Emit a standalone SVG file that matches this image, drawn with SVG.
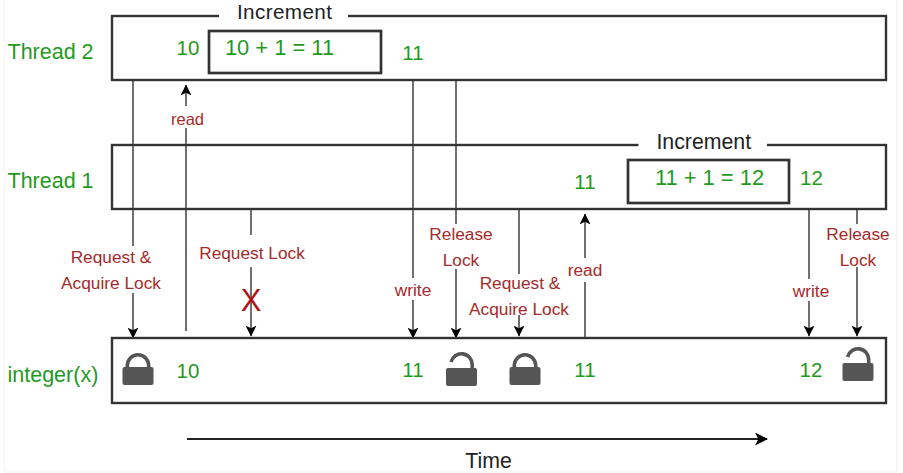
<svg xmlns="http://www.w3.org/2000/svg" width="903" height="473" viewBox="0 0 903 473">
<style>
text{font-family:"Liberation Sans",Arial,sans-serif}
.box{fill:none;stroke:#333;stroke-width:2.4}
.inner{fill:none;stroke:#333;stroke-width:2.7}
.gap{fill:#fff;stroke:none}
.line{fill:none;stroke:#222;stroke-width:1.3}
.g{fill:#1f9a1f;font-size:21.500px}
.n{fill:#1f9a1f;font-size:20.500px;text-anchor:middle}
.m{fill:#1f9a1f;font-size:21.900px;text-anchor:middle}
.r{fill:#a52a2a;font-size:17.300px;text-anchor:middle}
.b{fill:#222;font-size:21.300px;text-anchor:middle}
.lock{fill:#555}
.shackle{fill:none;stroke:#555;stroke-width:3.600}
.frame{fill:none;stroke:#f6f6f6;stroke-width:1.500}
</style>
<defs>
<marker id="ah" viewBox="0 0 10 10" refX="9.500" refY="5" markerWidth="11" markerHeight="11" markerUnits="userSpaceOnUse" orient="auto"><path d="M0 0L10 5L0 10L2.500 5Z" fill="#000"/></marker>
<marker id="ahb" viewBox="0 0 12 12" refX="11" refY="6" markerWidth="13" markerHeight="13" markerUnits="userSpaceOnUse" orient="auto"><path d="M0 0L12 6L0 12L3 6Z" fill="#000"/></marker>
<g id="lk"><rect class="lock" x="0" y="15" width="31" height="18" rx="2"/><path class="shackle" d="M4.800 16V13.500A10.700 10.700 0 0 1 26.200 13.500V16"/></g>
<g id="ulk"><rect class="lock" x="0" y="15" width="31" height="18" rx="2"/><path class="shackle" d="M5.100 9A10.700 10.700 0 0 1 26.200 11.500V16"/></g>
</defs>
<rect width="903" height="473" fill="#fff"/>
<path class="frame" d="M4.500 0V472H897V0"/>
<g id="connectors">
<path class="line" marker-end="url(#ah)" d="M133 80V338"/>
<path class="line" marker-end="url(#ah)" d="M186 331V85"/>
<path class="line" marker-end="url(#ah)" d="M251 209V336"/>
<path class="line" marker-end="url(#ah)" d="M413 80V338"/>
<path class="line" marker-end="url(#ah)" d="M456 80V338"/>
<path class="line" marker-end="url(#ah)" d="M519 209V336"/>
<path class="line" marker-end="url(#ah)" d="M585 338V214"/>
<path class="line" marker-end="url(#ah)" d="M809 209V336"/>
<path class="line" marker-end="url(#ah)" d="M857 209V336"/>
<path fill="none" stroke="#222" stroke-width="2" marker-end="url(#ahb)" d="M187 439H767"/>
</g>
<g id="thread2">
<rect class="box" x="112" y="16" width="774" height="64"/>
<rect class="gap" x="219" y="8" width="129" height="14"/>
<text class="b" x="284.500" y="18.800" style="font-size:20.700px" textLength="95">Increment</text>
<text class="g" x="7.500" y="59">Thread 2</text>
<text class="n" x="188" y="55">10</text>
<rect class="inner" x="209" y="31" width="172" height="42"/>
<text class="m" x="279.500" y="55">10 + 1 = 11</text>
<text class="n" x="413" y="60">11</text>
</g>
<g id="thread1">
<rect class="box" x="112" y="145" width="774" height="64"/>
<rect class="gap" x="638.500" y="137" width="128.500" height="14"/>
<text class="b" x="703.800" y="148.500">Increment</text>
<text class="g" x="7.500" y="188">Thread 1</text>
<text class="n" x="585" y="189">11</text>
<rect class="inner" x="628" y="160" width="161" height="43"/>
<text class="m" x="709.500" y="185">11 + 1 = 12</text>
<text class="n" x="811.500" y="185">12</text>
</g>
<g id="integer-x">
<rect class="box" x="112" y="338" width="774" height="65"/>
<text class="g" x="7.500" y="382">integer(x)</text>
<use href="#lk" x="122.500" y="352"/>
<text class="n" x="188" y="378">10</text>
<text class="n" x="413" y="377">11</text>
<use href="#ulk" x="446" y="353"/>
<use href="#lk" x="509.500" y="352"/>
<text class="n" x="585" y="377">11</text>
<text class="n" x="811" y="377">12</text>
<use href="#ulk" x="842.500" y="348"/>
</g>
<g id="labels">
<rect class="gap" x="171" y="106" width="33" height="22"/>
<text class="r" x="187.500" y="125" style="font-size:16.500px">read</text>
<rect class="gap" x="60" y="246" width="102" height="47"/>
<text class="r" x="111" y="263">Request &amp;</text>
<text class="r" x="111" y="289">Acquire Lock</text>
<rect class="gap" x="199" y="235" width="107" height="32"/>
<text class="r" x="252" y="259">Request Lock</text>
<text x="251" y="311" style="font-size:31px;fill:#b01515;text-anchor:middle">X</text>
<rect class="gap" x="394" y="278" width="39" height="22"/>
<text class="r" x="413" y="296">write</text>
<rect class="gap" x="428" y="224" width="66" height="45"/>
<text class="r" x="461" y="240">Release</text>
<text class="r" x="461" y="266">Lock</text>
<rect class="gap" x="470" y="274" width="100" height="41"/>
<text class="r" x="520" y="289">Request &amp;</text>
<text class="r" x="519" y="315">Acquire Lock</text>
<rect class="gap" x="567" y="258" width="37" height="24"/>
<text class="r" x="585" y="276">read</text>
<rect class="gap" x="792" y="279" width="38" height="22"/>
<text class="r" x="811" y="297">write</text>
<rect class="gap" x="826" y="224" width="64" height="43"/>
<text class="r" x="858" y="240">Release</text>
<text class="r" x="858" y="266">Lock</text>
<text class="b" x="488.500" y="468">Time</text>
</g>
</svg>
